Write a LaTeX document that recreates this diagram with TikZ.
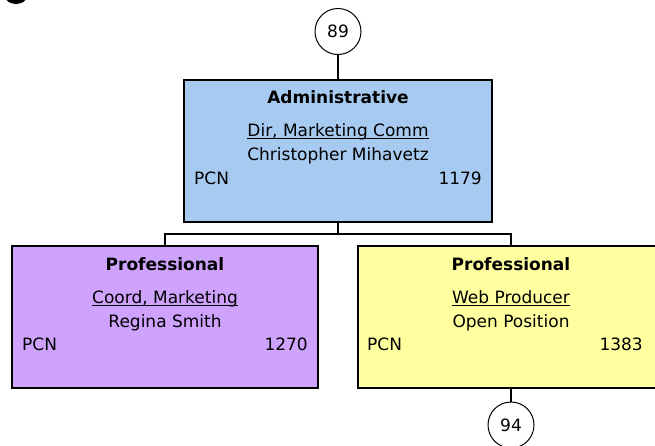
\documentclass[tikz,border=0pt]{standalone}
\usepackage{fontspec}
\setmainfont{DejaVu Sans}
\definecolor{adminblue}{RGB}{166,202,240}
\definecolor{profpurple}{RGB}{206,162,253}
\definecolor{profyellow}{RGB}{255,255,160}
\begin{document}
\begin{tikzpicture}[x=1pt,y=-1pt,
  font=\fontsize{17}{20}\selectfont,
  box/.style={draw=black, line width=2pt, rectangle, inner sep=0pt, minimum width=306pt, minimum height=142pt},
  txt/.style={inner sep=0pt, anchor=base},
  bold/.style={inner sep=0pt, anchor=base, font=\fontsize{17}{20}\selectfont\bfseries},
  numc/.style={draw=black, line width=1pt, circle, inner sep=0pt, minimum size=46pt, fill=white},
  link/.style={line width=2pt},
  uline/.style={line width=1pt}]
\useasboundingbox (0,0) rectangle (655,445);
\clip (0,0) rectangle (655,445);
\fill[black] (16,-4) ellipse [x radius=11, y radius=8];

% boxes
\node[box, fill=adminblue, minimum width=308pt] (admin) at (338,151) {};
\node[box, fill=profpurple] (coord) at (165,317) {};
\node[box, fill=profyellow] (web) at (511,317) {};

% circles
\node[numc] (c89) at (338,31.5) {89};
\node[numc] (c94) at (511,425) {94};

% connectors
\draw[link] (c89) -- (admin);
\draw[link] (admin.south) -- ++(0,11) coordinate (split) -| (coord.north);
\draw[link] (split) -| (web.north);
\draw[link] (web.south) -- (c94);

% admin texts
\node[bold] (a-title) at (338,103) {Administrative};
\node[txt] (a-pos) at (338,136) {Dir, Marketing Comm};
\node[txt] (a-name) at (338,160) {Christopher Mihavetz};
\node[txt, anchor=base west] (a-pcn) at (194,184) {PCN};
\node[txt, anchor=base east] (a-num) at (482,184) {1179};
\draw[uline] ([yshift=-2pt]a-pos.base west) -- ([yshift=-2pt]a-pos.base east);

% coord texts
\node[bold] (b-title) at (165,270) {Professional};
\node[txt] (b-pos) at (165,303) {Coord, Marketing};
\node[txt] (b-name) at (165,327) {Regina Smith};
\node[txt, anchor=base west] (b-pcn) at (22,350) {PCN};
\node[txt, anchor=base east] (b-num) at (308,350) {1270};
\draw[uline] ([yshift=-2pt]b-pos.base west) -- ([yshift=-2pt]b-pos.base east);

% web texts
\node[bold] (c-title) at (511,270) {Professional};
\node[txt] (c-pos) at (511,303) {Web Producer};
\node[txt] (c-name) at (511,327) {Open Position};
\node[txt, anchor=base west] (c-pcn) at (367,350) {PCN};
\node[txt, anchor=base east] (c-num) at (643,350) {1383};
\draw[uline] ([yshift=-2pt]c-pos.base west) -- ([yshift=-2pt]c-pos.base east);
\end{tikzpicture}
\end{document}
